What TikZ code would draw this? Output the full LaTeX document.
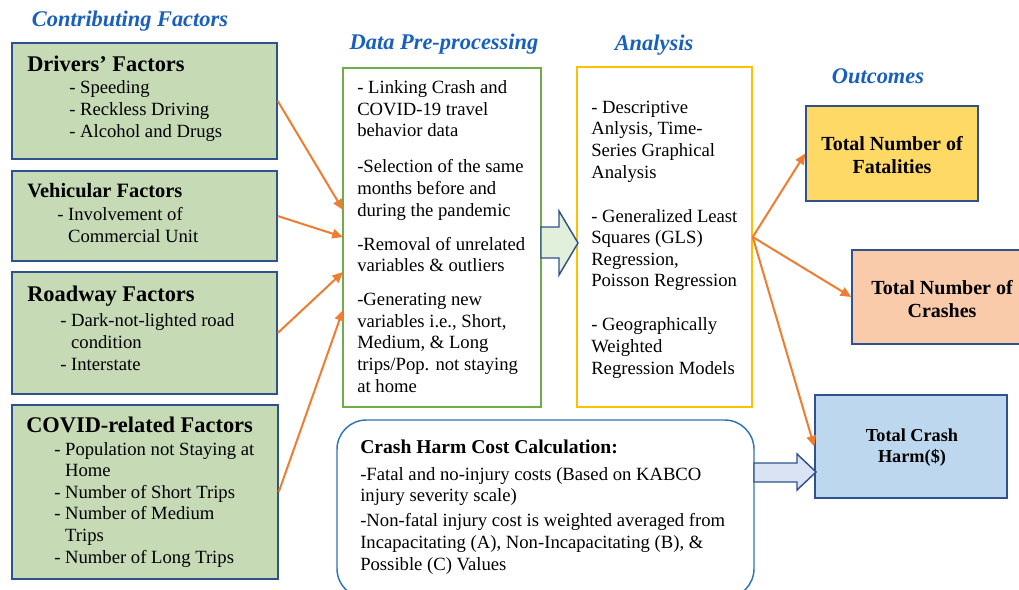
\documentclass[tikz,border=0pt]{standalone}
\usepackage{fontspec}
\setmainfont{Liberation Serif}
\usetikzlibrary{fit,arrows.meta}
\definecolor{titleblue}{RGB}{25,95,190}
\definecolor{boxblue}{RGB}{47,82,143}
\definecolor{factorgreen}{RGB}{197,218,181}
\definecolor{datagreen}{RGB}{112,173,71}
\definecolor{anagold}{RGB}{255,192,0}
\definecolor{arroworange}{RGB}{237,125,49}
\definecolor{fatfill}{RGB}{255,217,102}
\definecolor{crafill}{RGB}{250,203,170}
\definecolor{harmfill}{RGB}{189,215,238}
\definecolor{costblue}{RGB}{46,117,182}
\definecolor{bagreen}{RGB}{226,239,218}
\definecolor{bablue}{RGB}{218,227,243}
\begin{document}
\begin{tikzpicture}[x=0.75pt,y=-0.75pt,
  factor/.style={draw=boxblue, fill=factorgreen, line width=1.1pt, inner sep=0pt},
  outbox/.style={draw=boxblue, line width=1.1pt, inner sep=0pt},
  titletext/.style={font=\fontsize{16.8}{20}\selectfont\bfseries\itshape, text=titleblue, inner sep=0pt},
  headtext/.style={font=\fontsize{16.8}{20}\selectfont\bfseries, anchor=base west, inner sep=0pt},
  bodytext/.style={font=\fontsize{14}{16.2}\selectfont, anchor=base west, align=left, inner sep=0pt},
  flow/.style={draw=arroworange, line width=1.5pt, -{Triangle[length=8pt,width=7pt]}},
  outtext/.style={font=\fontsize{15}{17.25}\selectfont\bfseries, align=center, inner sep=0pt},
  blockarrow/.style={draw=boxblue, line width=1.1pt, line join=miter},
]
\useasboundingbox (0,0) rectangle (1019,589);
\clip (0,0) rectangle (1019,589);

% titles
\node[titletext] (t1) at (130,21) {Contributing Factors};
\node[titletext] (t2) at (444,44) {Data Pre-processing};
\node[titletext] (t3) at (654,45) {Analysis};
\node[titletext] (t4) at (878,76) {Outcomes};

% factor boxes
\node[factor, fit={(12,43) (277,159)}] (drv) {};
\node[factor, fit={(12,171) (277,261)}] (veh) {};
\node[factor, fit={(12,272) (277,394)}] (road) {};
\node[factor, fit={(12,405) (278,579)}] (covid) {};

% (base anchor of multi-line text = baseline of its last line)
\node[headtext] (drvh) at (27,71) {Drivers' Factors};
\node[bodytext] (drvb) at (69,137) {- Speeding\\- Reckless Driving\\- Alcohol and Drugs};
\node[headtext, font=\fontsize{15.3}{18}\selectfont\bfseries] (vehh) at (27,197) {Vehicular Factors};
\node[bodytext] (vehb) at (57,242) {- Involvement of\\\phantom{- }Commercial Unit};
\node[headtext] (roadh) at (27,301) {Roadway Factors};
\node[bodytext] (roadb) at (60,370) {- Dark-not-lighted road\\\phantom{- }condition\\- Interstate};
\node[headtext] (covidh) at (26,432) {COVID-related Factors};
\node[bodytext] (covidb) at (54,563) {- Population not Staying at\\\phantom{- }Home\\- Number of Short Trips\\- Number of Medium\\\phantom{- }Trips\\- Number of Long Trips};

% data box
\node[draw=datagreen, line width=1.1pt, inner sep=0pt, fit={(343,68) (541,407)}] (data) {};
\node[bodytext] (datab) at (357,392) {- Linking Crash and\\COVID-19 travel\\behavior data\\[10.8pt]-Selection of the same\\months before and\\during the pandemic\\[9.3pt]-Removal of unrelated\\variables \& outliers\\[9.3pt]-Generating new\\variables i.e., Short,\\Medium, \& Long\\trips/Pop. not staying\\at home};

% analysis box
\node[draw=anagold, line width=1.1pt, inner sep=0pt, fit={(577,67) (752,407)}] (ana) {};
\node[bodytext] (anab) at (591,374) {- Descriptive\\Anlysis, Time-\\Series Graphical\\Analysis\\[16.8pt]- Generalized Least\\Squares (GLS)\\Regression,\\Poisson Regression\\[16.8pt]- Geographically\\Weighted\\Regression Models};

% outcome boxes
\node[outbox, fill=fatfill, fit={(806,106) (978,201)}] (fat) {};
\node[outtext] (fatt) at (892,155) {Total Number of\\Fatalities};
\node[outbox, fill=crafill, fit={(852,250) (1032,344)}] (cra) {};
\node[outtext] (crat) at (942,299) {Total Number of\\Crashes};
\node[outbox, fill=harmfill, fit={(815,395) (1007,498)}] (harm) {};
\node[outtext, font=\fontsize{13.7}{15.75}\selectfont\bfseries] (harmt) at (912,448) {Total Crash\\Harm(\$)};

% cost box
\node[draw=costblue, line width=1.1pt, rounded corners=22pt, inner sep=0pt, fit={(337,420) (754,598)}] (cost) {};
\node[headtext, font=\fontsize{14.7}{17}\selectfont\bfseries] (costh) at (360,453) {Crash Harm Cost Calculation:};
\node[bodytext] (costb) at (360,570) {-Fatal and no-injury costs (Based on KABCO\\injury severity scale)\\[2.5pt]-Non-fatal injury cost is weighted averaged from\\Incapacitating (A), Non-Incapacitating (B), \&\\Possible (C) Values};

% block arrows
\draw[blockarrow, fill=bagreen] (541,227) -- (559,227) -- (559,211) -- (578,243) -- (559,275) -- (559,258) -- (541,258) -- cycle;
\draw[blockarrow, fill=bablue] (754,463) -- (797,463) -- (797,454) -- (816,472) -- (797,490) -- (797,482) -- (754,482) -- cycle;

% orange connectors
\coordinate (d1) at (343,210);
\coordinate (d2) at (343,237);
\coordinate (d3) at (343,272);
\coordinate (d4) at (343,310);
\draw[flow] (drv.east) -- (d1);
\draw[flow] (veh.east) -- (d2);
\draw[flow] (road.east) -- (d3);
\draw[flow] (covid.east) -- (d4);
\draw[flow] (ana.east) -- (fat.west);
\draw[flow] (ana.east) -- (cra.west);
\draw[flow] (ana.east) -- (harm.west);
\end{tikzpicture}
\end{document}
